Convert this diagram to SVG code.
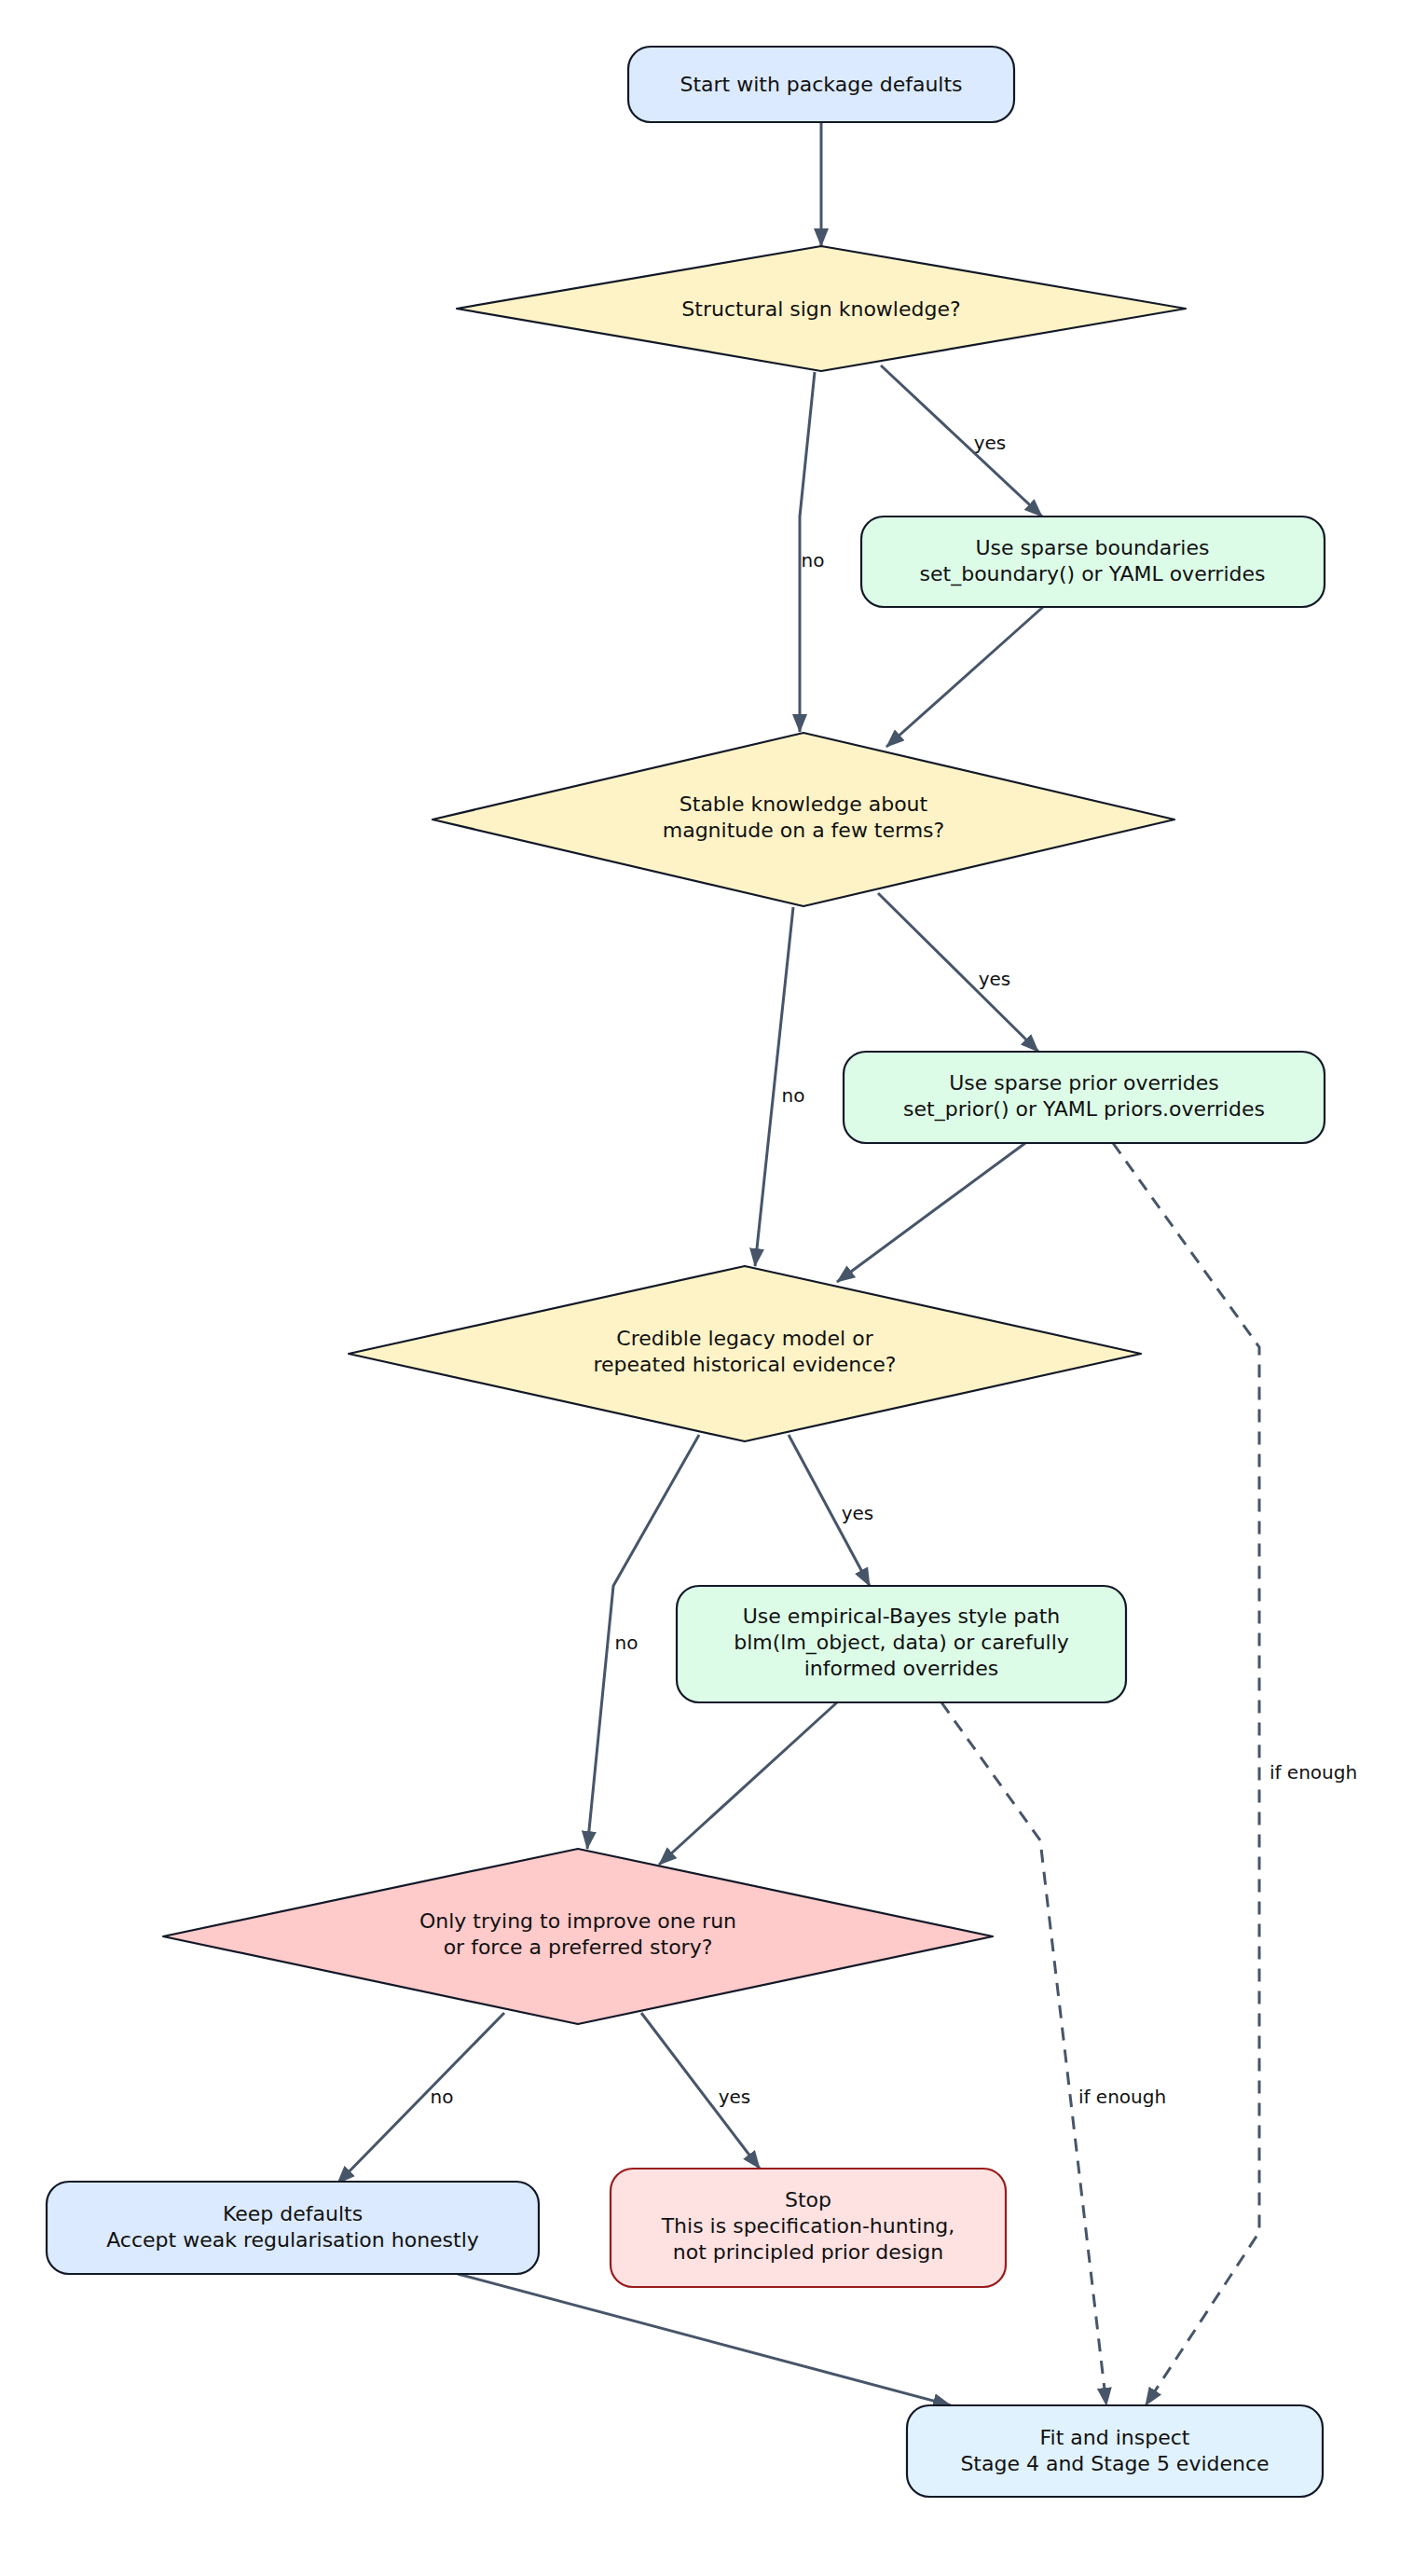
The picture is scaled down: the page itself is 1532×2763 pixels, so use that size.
<svg xmlns="http://www.w3.org/2000/svg" width="1532" height="2763" viewBox="0 0 1532 2763">
<style>
.n{stroke:#111827;stroke-width:2.2}
.d{stroke:#111827;stroke-width:2.2;stroke-linejoin:round}
.t{font-family:"DejaVu Sans",sans-serif;font-size:22px;fill:#111;text-anchor:middle}
.l{font-family:"DejaVu Sans",sans-serif;font-size:20px;fill:#111;text-anchor:middle}
.e{fill:none;stroke:#475569;stroke-width:3;marker-end:url(#a)}
.dash{stroke-dasharray:14 10}
</style>
<defs>
<marker id="a" markerUnits="userSpaceOnUse" markerWidth="20" markerHeight="16" refX="19" refY="8" orient="auto">
<path d="M0,0 L20,8 L0,16 Z" fill="#475569"/>
</marker>
</defs>
<rect width="1532" height="2763" fill="#fff"/>
<g id="edges">
<path class="e" d="M881,131 L881,264"/>
<path class="e" d="M874,399 L858,554 L858,644 L858,785"/>
<path class="e" d="M945,392 L1118,554"/>
<path class="e" d="M1119,651 L951,801"/>
<path class="e" d="M851,973 L810,1358"/>
<path class="e" d="M942,958 L1114,1128"/>
<path class="e" d="M1100,1226 L898,1375"/>
<path class="e dash" d="M1194,1226 L1351,1445 L1351,2394 L1229,2580"/>
<path class="e" d="M750,1539 L658,1701 L630,1983"/>
<path class="e" d="M846,1539 L933,1701"/>
<path class="e" d="M898,1826 L707,2000"/>
<path class="e dash" d="M1010,1826 L1116,1974 L1187,2580"/>
<path class="e" d="M541,2159 L362,2342"/>
<path class="e" d="M688,2159 L815,2326"/>
<path class="e" d="M491,2439 L1020,2580"/>
<text class="l" x="872" y="608">no</text>
<text class="l" x="1062" y="482">yes</text>
<text class="l" x="851" y="1182">no</text>
<text class="l" x="1067" y="1057">yes</text>
<text class="l" x="1409" y="1908">if enough</text>
<text class="l" x="672" y="1769">no</text>
<text class="l" x="920" y="1630">yes</text>
<text class="l" x="1204" y="2256">if enough</text>
<text class="l" x="474" y="2256">no</text>
<text class="l" x="788" y="2256">yes</text>
</g>
<g id="start"><rect class="n" x="674" y="50" width="414" height="81" rx="24" fill="#dbeafe"/><text class="t" x="881" y="98">Start with package defaults</text></g>
<g id="d1"><polygon class="d" points="881,264 1272,331 881,398 490,331" fill="#fef3c7"/><text class="t" x="881" y="339">Structural sign knowledge?</text></g>
<g id="boundary"><rect class="n" x="924" y="554" width="497" height="97" rx="24" fill="#dcfce7"/><text class="t" x="1172" y="595">Use sparse boundaries</text><text class="t" x="1172" y="623">set_boundary() or YAML overrides</text></g>
<g id="d2"><polygon class="d" points="862,786 1260,879 862,972 464,879" fill="#fef3c7"/><text class="t" x="862" y="870">Stable knowledge about</text><text class="t" x="862" y="898">magnitude on a few terms?</text></g>
<g id="prior"><rect class="n" x="905" y="1128" width="516" height="98" rx="24" fill="#dcfce7"/><text class="t" x="1163" y="1169">Use sparse prior overrides</text><text class="t" x="1163" y="1197">set_prior() or YAML priors.overrides</text></g>
<g id="d3"><polygon class="d" points="799,1358 1224,1452 799,1546 374,1452" fill="#fef3c7"/><text class="t" x="799" y="1443">Credible legacy model or</text><text class="t" x="799" y="1471">repeated historical evidence?</text></g>
<g id="eb"><rect class="n" x="726" y="1701" width="482" height="125" rx="24" fill="#dcfce7"/><text class="t" x="967" y="1741">Use empirical-Bayes style path</text><text class="t" x="967" y="1769">blm(lm_object, data) or carefully</text><text class="t" x="967" y="1797">informed overrides</text></g>
<g id="d4"><polygon class="d" points="620,1983 1065,2077 620,2171 175,2077" fill="#fecaca"/><text class="t" x="620" y="2068">Only trying to improve one run</text><text class="t" x="620" y="2096">or force a preferred story?</text></g>
<g id="keep"><rect class="n" x="50" y="2340" width="528" height="99" rx="24" fill="#dbeafe"/><text class="t" x="314" y="2382">Keep defaults</text><text class="t" x="314" y="2410">Accept weak regularisation honestly</text></g>
<g id="stop"><rect x="655" y="2326" width="424" height="127" rx="24" fill="#fee2e2" stroke="#991b1b" stroke-width="2.2"/><text class="t" x="867" y="2367">Stop</text><text class="t" x="867" y="2395">This is specification-hunting,</text><text class="t" x="867" y="2423">not principled prior design</text></g>
<g id="fit"><rect class="n" x="973" y="2580" width="446" height="98" rx="24" fill="#e0f2fe"/><text class="t" x="1196" y="2622">Fit and inspect</text><text class="t" x="1196" y="2650">Stage 4 and Stage 5 evidence</text></g>
</svg>
